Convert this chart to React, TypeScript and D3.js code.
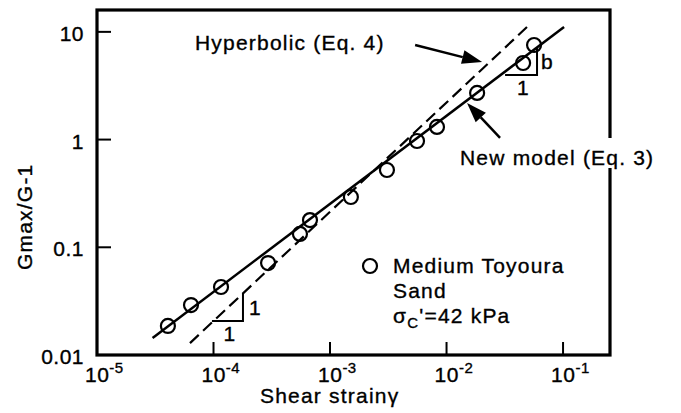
import * as React from 'react'
import * as d3 from 'd3'

// measured points: Medium Toyoura sand
const strain = [4.06e-5, 6.41e-5, 1.16e-4, 2.94e-4, 5.52e-4, 6.73e-4, 1.51e-3, 3.08e-3, 5.58e-3, 8.28e-3, 0.0183, 0.0454, 0.0564];
const ratio = [0.0186, 0.0291, 0.0428, 0.0714, 0.133, 0.179, 0.293, 0.522, 0.97, 1.31, 2.71, 5.14, 7.55];

// fitted lines (end points)
const newModelStrain = [3.0e-5, 0.102];
const newModelRatio = [0.0144, 11.1];
const hyperbolicStrain = [6.28e-5, 0.0491];
const hyperbolicRatio = [0.0129, 11.1];

// slope triangles
const lowerTriStrain = [9.7e-5, 1.79e-4];
const lowerTriRatio = [0.0207, 0.0377];
const upperTriStrain = [0.0318, 0.0598];
const upperTriRatio = [3.98, 7.08];

const xTicks = [1e-5, 1e-4, 1e-3, 1e-2, 1e-1];
const xTickExp = ['-5', '-4', '-3', '-2', '-1'];
const yTicks = [0.01, 0.1, 1, 10];
const yTickLabels = ['0.01', '0.1', '1', '10'];

const W = 681;
const H = 413;
const FONT = '"Liberation Sans", Arial, Helvetica, sans-serif';

const x = d3.scaleLog().domain([1e-5, Math.pow(10, -0.597)]).range([97, 610]);
const y = d3.scaleLog().domain([0.01, Math.pow(10, 1.203)]).range([355, 10]);

const arrow = (tx: number, ty: number, dx: number, dy: number) => {
  // tail at (tx+dx, ty+dy), tip at (tx, ty)
  const len = Math.hypot(dx, dy);
  const ux = -dx / len, uy = -dy / len;
  const hl = 20, hw = 7;
  const bx = tx - ux * hl, by = ty - uy * hl;
  const head = `M${tx},${ty}L${bx - uy * hw},${by + ux * hw}L${bx + uy * hw},${by - ux * hw}Z`;
  return (
    <g>
      <line x1={tx + dx} y1={ty + dy} x2={bx} y2={by} stroke="#000" strokeWidth={2.5} />
      <path d={head} fill="#000" />
    </g>
  );
};

const App: React.FC = () => {
  const pts = strain.map((s, i) => [s, ratio[i]] as [number, number]);
  const line = d3.line<[number, number]>().x(d => x(d[0])).y(d => y(d[1]));
  const newModel = newModelStrain.map((s, i) => [s, newModelRatio[i]] as [number, number]);
  const hyper = hyperbolicStrain.map((s, i) => [s, hyperbolicRatio[i]] as [number, number]);

  const tri = (xs: number[], ys: number[]) =>
    `M${x(xs[0])},${y(ys[0])}H${x(xs[1])}V${y(ys[1])}`;

  const text = {
    fontFamily: FONT, fontSize: 21, letterSpacing: 1.2,
    stroke: '#000', strokeWidth: 0.35, fill: '#000',
  } as React.CSSProperties;

  const hx = x(0.0202), hy = y(5.25);
  const nx = x(0.015), ny = y(2.19);

  return (
    <svg width={W} height={H} style={{ position: 'absolute', left: 0, top: 0, background: '#fff' }}>
      {/* fitted lines */}
      <path d={line(hyper) || ''} fill="none" stroke="#000" strokeWidth={2.2} strokeDasharray="12,6" />
      <path d={line(newModel) || ''} fill="none" stroke="#000" strokeWidth={2.5} />

      {/* slope triangles */}
      <path d={tri(lowerTriStrain, lowerTriRatio)} fill="none" stroke="#000" strokeWidth={2} />
      <text x={x(lowerTriStrain[1]) + 6} y={(y(lowerTriRatio[0]) + y(lowerTriRatio[1])) / 2 + 8} style={text}>1</text>
      <text x={(x(lowerTriStrain[0]) + x(lowerTriStrain[1])) / 2 - 4} y={y(lowerTriRatio[0]) + 20} style={text}>1</text>
      <path d={tri(upperTriStrain, upperTriRatio)} fill="none" stroke="#000" strokeWidth={2} />
      <text x={x(upperTriStrain[1]) + 4} y={(y(upperTriRatio[0]) + y(upperTriRatio[1])) / 2 + 8} style={text}>b</text>
      <text x={(x(upperTriStrain[0]) + x(upperTriStrain[1])) / 2 - 4} y={y(upperTriRatio[0]) + 20} style={text}>1</text>

      {/* data */}
      {pts.map((d, i) => (
        <circle key={i} cx={x(d[0])} cy={y(d[1])} r={7} fill="none" stroke="#000" strokeWidth={2.2} />
      ))}

      {/* frame */}
      <rect x={x.range()[0]} y={y.range()[1]} width={x.range()[1] - x.range()[0]} height={y.range()[0] - y.range()[1]}
        fill="none" stroke="#000" strokeWidth={3.2} />

      {/* ticks */}
      {yTicks.map((t, i) => (
        <g key={'y' + i}>
          <line x1={97} x2={111} y1={y(t)} y2={y(t)} stroke="#000" strokeWidth={2} />
          <text x={84} y={y(t) + 9} textAnchor="end" style={{ ...text, letterSpacing: 0.5 }}>{yTickLabels[i]}</text>
        </g>
      ))}
      {xTicks.map((t, i) => (
        <g key={'x' + i}>
          <line x1={x(t)} x2={x(t)} y1={355} y2={342} stroke="#000" strokeWidth={2} />
          <text x={x(t) - 12} y={382} style={{ ...text, letterSpacing: 0.5 }}>
            10<tspan dy={-9} fontSize={15}>{xTickExp[i]}</tspan>
          </text>
        </g>
      ))}

      {/* axis titles */}
      <text x={260} y={403} style={text}>Shear strain<tspan letterSpacing={0}>γ</tspan></text>
      <text transform="translate(32,270) rotate(-90)" style={text}>Gmax/G-1</text>

      {/* annotations */}
      <text x={195} y={50} style={text}>Hyperbolic (Eq. 4)</text>
      {arrow(hx, hy, -67, -17)}
      <rect x={455} y={138} width={206} height={30} fill="#fff" />
      <text x={460} y={165} style={text}>New model (Eq. 3)</text>
      {arrow(nx, ny, 33, 35)}

      {/* legend */}
      <circle cx={370} cy={266} r={7} fill="none" stroke="#000" strokeWidth={2.2} />
      <text x={393} y={273} style={text}>Medium Toyoura</text>
      <text x={393} y={298} style={text}>Sand</text>
      <text x={393} y={323} style={text}>σ<tspan dy={5} fontSize={15}>C</tspan><tspan dy={-5}>'=42 kPa</tspan></text>
    </svg>
  );
};

export default App;
